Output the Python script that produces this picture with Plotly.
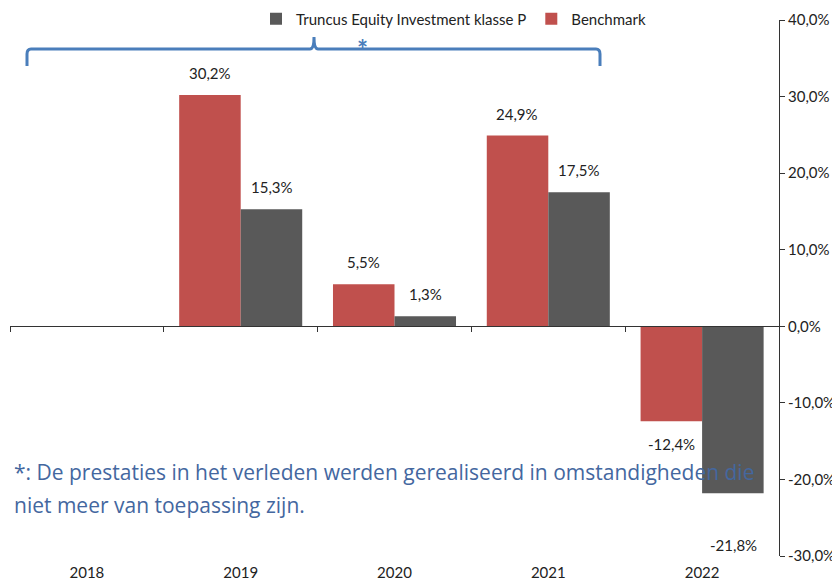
import plotly.graph_objects as go

### chart data
years = ["2018", "2019", "2020", "2021", "2022"]
benchmark = [None, 30.2, 5.5, 24.9, -12.4]
truncus = [None, 15.3, 1.3, 17.5, -21.8]
y_ticks = [40, 30, 20, 10, 0, -10, -20, -30]

footnote_lines = ["*: De prestaties in het verleden werden gerealiseerd in omstandigheden die",
                  "niet meer van toepassing zijn."]

### layout helpers (page pixel -> paper); page body has an 8px margin
OFF = 8
W, H = 840 - OFF, 582 - OFF
L, R, T, B = 10 - OFF, 61, 20 - OFF, 26
def px_x(p):
    return (p - OFF - L) / (W - L - R)
def px_y(p):
    return (H - B - (p - OFF)) / (H - T - B)

def pct(v):
    return f"{v:.1f}%".replace(".", ",")

RED = "#C0504D"
GREY = "#595959"
BLUE = "#4A7EBB"
FONT = "Lato"
FS = 15

fig = go.Figure()
fig.add_trace(go.Bar(x=years, y=benchmark, name="Benchmark", marker_color=RED,
                     marker_line_width=0, legendrank=2))
fig.add_trace(go.Bar(x=years, y=truncus, name="Truncus Equity Investment klasse P",
                     marker_color=GREY, marker_line_width=0, legendrank=1))
# invisible trace for the zero-line axis with boundary ticks
fig.add_trace(go.Scatter(x=years, y=[0] * len(years), xaxis="x2", mode="lines",
                         line_width=0, showlegend=False, hoverinfo="skip"))

### data labels
for i, yr in enumerate(years):
    for vals, shift in ((benchmark, -31), (truncus, 31)):
        v = vals[i]
        if v is None:
            continue
        ys = 22 if v >= 0 else -23
        if v < -20:
            ys = -52
        fig.add_annotation(x=i, y=v, xref="x", yref="y", text=pct(v),
                           showarrow=False, xshift=shift, yshift=ys,
                           font=dict(size=FS, color="#222", family=FONT))

### brace + asterisk
xl, xm, xr = px_x(27), px_x(314), px_x(600)
yb, yh, yt = px_y(66), px_y(49), px_y(37)
dx = 4 / (W - L - R)
dy = 5 / (H - T - B)
brace = (f"M{xl},{yb} L{xl},{yh - dy} Q{xl},{yh} {xl + dx},{yh} "
         f"L{xm - dx},{yh} Q{xm},{yh} {xm},{yt} Q{xm},{yh} {xm + dx},{yh} "
         f"L{xr - dx},{yh} Q{xr},{yh} {xr},{yh - dy} L{xr},{yb}")
fig.add_shape(type="path", path=brace, xref="paper", yref="paper",
              line=dict(color=BLUE, width=3))
fig.add_annotation(x=px_x(362), y=px_y(49), xref="paper", yref="paper",
                   text="<b>*</b>", showarrow=False, yanchor="middle",
                   font=dict(size=26, color=BLUE, family=FONT))

### footnote
for k, line in enumerate(footnote_lines):
    fig.add_annotation(x=px_x(12), y=px_y(472 + 33 * k), xref="paper",
                       yref="paper", text=line, showarrow=False, align="left",
                       xanchor="left", yanchor="middle",
                       font=dict(size=21, color="#44679F", family="Open Sans"))

fig.update_layout(
    width=W, height=H,
    margin=dict(l=L, r=R, t=T, b=B, autoexpand=False),
    paper_bgcolor="white", plot_bgcolor="white",
    barmode="group", bargap=0.2, bargroupgap=0,
    font=dict(family=FONT, size=FS, color="#222"),
    showlegend=True,
    legend=dict(orientation="h", x=(256 - OFF) / W, y=1 - (19 - OFF) / H,
                xref="container", yref="container", xanchor="left",
                yanchor="middle", itemwidth=30, font=dict(size=FS),
                bgcolor="rgba(0,0,0,0)"),
    xaxis=dict(type="category", categoryorder="array", categoryarray=years,
               range=[-0.5, len(years) - 0.5], showline=False, ticks="",
               showgrid=False, zeroline=False, automargin=False,
               ticklabelstandoff=6,
               tickfont=dict(size=FS, color="#222")),
    xaxis2=dict(type="category", overlaying="x", anchor="free",
                categoryorder="array", categoryarray=years,
                range=[-0.5, len(years) - 0.5],
                position=px_y(326), showline=True, linecolor="#333",
                linewidth=1, ticks="outside", tickson="boundaries",
                ticklen=5, tickcolor="#333", showticklabels=False,
                showgrid=False, zeroline=False, automargin=False),
    yaxis=dict(side="right", range=[-30, 40], tickvals=y_ticks,
               ticktext=[pct(v) for v in y_ticks], showline=True,
               linecolor="#333", ticks="outside", ticklen=5,
               tickcolor="#333", showgrid=False, zeroline=False,
               automargin=False, tickfont=dict(size=FS, color="#222")),
)

fig.write_html("out.html")
